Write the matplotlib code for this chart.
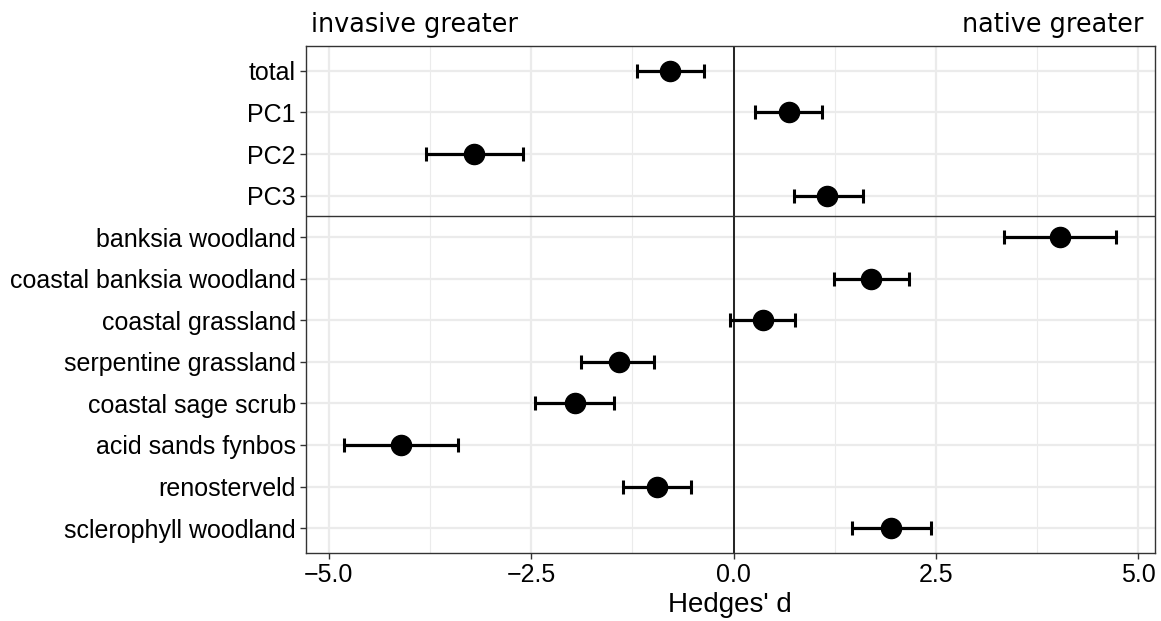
import numpy as np
import matplotlib
matplotlib.use('Agg')
import matplotlib.pyplot as plt
from matplotlib.ticker import MultipleLocator, FuncFormatter

labels = ['total', 'PC1', 'PC2', 'PC3',
          'banksia woodland', 'coastal banksia woodland', 'coastal grassland',
          'serpentine grassland', 'coastal sage scrub', 'acid sands fynbos',
          'renosterveld', 'sclerophyll woodland']
d = [-0.78, 0.68, -3.20, 1.16, 4.03, 1.70, 0.36, -1.42, -1.96, -4.11, -0.95, 1.95]
ci_low = [-1.19, 0.27, -3.80, 0.75, 3.34, 1.24, -0.04, -1.88, -2.45, -4.81, -1.36, 1.46]
ci_high = [-0.36, 1.09, -2.60, 1.60, 4.73, 2.17, 0.76, -0.98, -1.48, -3.41, -0.52, 2.44]

d = np.array(d)
lo = np.array(ci_low)
hi = np.array(ci_high)
n = len(labels)
ypos = np.arange(n, 0, -1)  # total at top

plt.rcParams['font.family'] = ['Liberation Sans', 'DejaVu Sans']

fig = plt.figure(figsize=(11.61, 6.21), dpi=100)
ax = fig.add_axes([0.2632, 0.1095, 0.9948 - 0.2632, 0.926 - 0.1095])

# grid (theme_bw look)
xmin, xmax = lo.min(), hi.max()
pad = 0.05 * (xmax - xmin)
ax.set_xlim(xmin - pad, xmax + pad)
ax.set_ylim(0.4, n + 0.6)
ax.xaxis.set_major_locator(MultipleLocator(2.5))
ax.xaxis.set_minor_locator(MultipleLocator(1.25))
ax.grid(which='major', axis='both', color='#EBEBEB', linewidth=1.6, zorder=0)
ax.grid(which='minor', axis='x', color='#EBEBEB', linewidth=0.8, zorder=0)
ax.set_axisbelow(True)

ax.axvline(0, color='black', linewidth=1.2, zorder=1)
ax.axhline(n - 3.5, color='#333333', linewidth=1.0, zorder=1)

ax.errorbar(d, ypos, xerr=[d - lo, hi - d], fmt='o', color='black',
            markersize=14.5, elinewidth=2.3, capsize=5, capthick=2.2, zorder=3)

ax.set_yticks(ypos)
ax.set_yticklabels(labels)
ax.tick_params(axis='both', which='major', length=4, width=1, color='#333333',
               labelsize=18, labelcolor='black')
ax.tick_params(axis='y', pad=3)
ax.tick_params(axis='x', pad=3)
ax.tick_params(which='minor', length=0)
ax.xaxis.set_major_formatter(FuncFormatter(lambda v, p: f'{v:.1f}'.replace('-', '\u2212')))
for s in ax.spines.values():
    s.set_color('#333333')
    s.set_linewidth(1.0)

ax.set_xlabel("Hedges' d", fontsize=20, labelpad=4)

fig.text(311 / 1161, 1 - 32 / 621, 'invasive greater', family='DejaVu Sans',
         fontsize=18.4, ha='left', va='baseline')
fig.text(1143 / 1161, 1 - 32 / 621, 'native greater', family='DejaVu Sans',
         fontsize=18.4, ha='right', va='baseline')

fig.savefig('out.png', dpi=100, facecolor='white')
